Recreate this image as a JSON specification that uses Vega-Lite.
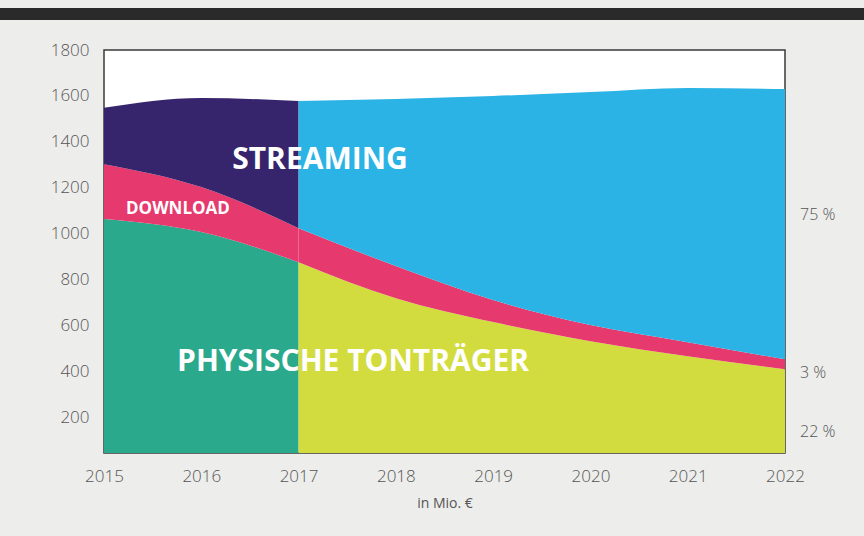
{
  "$schema": "https://vega.github.io/schema/vega-lite/v6.json",
  "width": 681,
  "height": 403,
  "autosize": {"type": "none"},
  "padding": {"left": 104, "top": 50, "right": 79, "bottom": 83},
  "background": "#ededeb",
  "config": {
    "view": {"fill": "white", "stroke": "#3a3a3a", "strokeWidth": 1.5},
    "font": "Open Sans",
    "axis": {"labelFont": "Open Sans", "titleFont": "Open Sans", "labelColor": "#555", "titleColor": "#555", "grid": false, "ticks": false, "domain": false, "labelFontWeight": 300}
  },
  "datasets": {
    "areas": [
      {"year": 2015, "series": "Physisch bis 2017", "ord": 1, "value": 1064},
      {"year": 2016, "series": "Physisch bis 2017", "ord": 1, "value": 1007},
      {"year": 2017, "series": "Physisch bis 2017", "ord": 1, "value": 876},
      {"year": 2015, "series": "Download bis 2017", "ord": 2, "value": 239},
      {"year": 2016, "series": "Download bis 2017", "ord": 2, "value": 196},
      {"year": 2017, "series": "Download bis 2017", "ord": 2, "value": 148},
      {"year": 2015, "series": "Streaming bis 2017", "ord": 3, "value": 245},
      {"year": 2016, "series": "Streaming bis 2017", "ord": 3, "value": 388},
      {"year": 2017, "series": "Streaming bis 2017", "ord": 3, "value": 554},
      {"year": 2017, "series": "Physisch ab 2017", "ord": 1, "value": 876},
      {"year": 2018, "series": "Physisch ab 2017", "ord": 1, "value": 719},
      {"year": 2019, "series": "Physisch ab 2017", "ord": 1, "value": 615},
      {"year": 2020, "series": "Physisch ab 2017", "ord": 1, "value": 532},
      {"year": 2021, "series": "Physisch ab 2017", "ord": 1, "value": 466},
      {"year": 2022, "series": "Physisch ab 2017", "ord": 1, "value": 410},
      {"year": 2017, "series": "Download ab 2017", "ord": 2, "value": 148},
      {"year": 2018, "series": "Download ab 2017", "ord": 2, "value": 140},
      {"year": 2019, "series": "Download ab 2017", "ord": 2, "value": 96},
      {"year": 2020, "series": "Download ab 2017", "ord": 2, "value": 70},
      {"year": 2021, "series": "Download ab 2017", "ord": 2, "value": 61},
      {"year": 2022, "series": "Download ab 2017", "ord": 2, "value": 43},
      {"year": 2017, "series": "Streaming ab 2017", "ord": 3, "value": 554},
      {"year": 2018, "series": "Streaming ab 2017", "ord": 3, "value": 728},
      {"year": 2019, "series": "Streaming ab 2017", "ord": 3, "value": 889},
      {"year": 2020, "series": "Streaming ab 2017", "ord": 3, "value": 1015},
      {"year": 2021, "series": "Streaming ab 2017", "ord": 3, "value": 1108},
      {"year": 2022, "series": "Streaming ab 2017", "ord": 3, "value": 1177}
    ]
  },
  "layer": [
    {
      "mark": {"type": "rule", "strokeDash": [3, 3], "color": "#666", "strokeWidth": 1},
      "encoding": {"y": {"datum": 1600, "type": "quantitative"}}
    },
    {
      "data": {"name": "areas"},
      "transform": [{"filter": "indexof(datum.series, 'bis') >= 0"}],
      "mark": {"type": "area", "interpolate": "monotone", "clip": true},
      "encoding": {
        "x": {"field": "year", "type": "quantitative", "scale": {"domain": [2015, 2022], "nice": false},
          "axis": {"values": [2015, 2016, 2017, 2018, 2019, 2020, 2021, 2022], "format": "d", "labelFlush": false, "labelFontSize": 17, "labelPadding": 15, "title": "in Mio. €", "titleFontSize": 14, "titleFontWeight": "normal", "titlePadding": 12}},
        "y": {"field": "value", "type": "quantitative", "stack": "zero", "scale": {"domain": [45, 1800], "nice": false, "zero": false},
          "axis": {"values": [200, 400, 600, 800, 1000, 1200, 1400, 1600, 1800], "format": "d", "labelFlush": false, "labelFontSize": 17, "labelPadding": 15, "title": null}},
        "color": {"field": "series", "type": "nominal", "legend": null,
          "scale": {"domain": ["Physisch bis 2017", "Download bis 2017", "Streaming bis 2017", "Physisch ab 2017", "Download ab 2017", "Streaming ab 2017"],
            "range": ["#2aa98c", "#e6396d", "#36246c", "#d3dc3e", "#e6396d", "#2ab3e4"]}},
        "order": {"field": "ord", "type": "quantitative"}
      }
    },
    {
      "data": {"name": "areas"},
      "transform": [{"filter": "indexof(datum.series, 'ab') >= 0"}],
      "mark": {"type": "area", "interpolate": "monotone", "clip": true},
      "encoding": {
        "x": {"field": "year", "type": "quantitative"},
        "y": {"field": "value", "type": "quantitative", "stack": "zero"},
        "color": {"field": "series", "type": "nominal", "legend": null},
        "order": {"field": "ord", "type": "quantitative"}
      }
    },
    {
      "data": {"values": [
        {"year": 2017.22, "value": 1321, "label": "STREAMING", "size": 30},
        {"year": 2017.56, "value": 440, "label": "PHYSISCHE TONTRÄGER", "size": 30},
        {"year": 2015.76, "value": 1107, "label": "DOWNLOAD", "size": 17}
      ]},
      "mark": {"type": "text", "color": "white", "fontWeight": "bold", "font": "Open Sans", "baseline": "middle", "align": "center"},
      "encoding": {
        "x": {"field": "year", "type": "quantitative"},
        "y": {"field": "value", "type": "quantitative"},
        "text": {"field": "label"},
        "size": {"field": "size", "type": "quantitative", "scale": null}
      }
    },
    {
      "data": {"values": [
        {"year": 2022, "value": 1081, "label": "75 %"},
        {"year": 2022, "value": 392, "label": "3 %"},
        {"year": 2022, "value": 135, "label": "22 %"}
      ]},
      "mark": {"type": "text", "color": "#555", "fontSize": 16, "fontWeight": 300, "font": "Open Sans", "baseline": "middle", "align": "left", "dx": 15},
      "encoding": {
        "x": {"field": "year", "type": "quantitative"},
        "y": {"field": "value", "type": "quantitative"},
        "text": {"field": "label"}
      }
    },
    {
      "data": {"values": [{"x1": 2013.8, "x2": 2023.9, "y": 1957}]},
      "mark": {"type": "rule", "color": "#2a2a2a", "strokeWidth": 12, "clip": false},
      "encoding": {
        "x": {"field": "x1", "type": "quantitative"},
        "x2": {"field": "x2"},
        "y": {"field": "y", "type": "quantitative"}
      }
    }
  ]
}
